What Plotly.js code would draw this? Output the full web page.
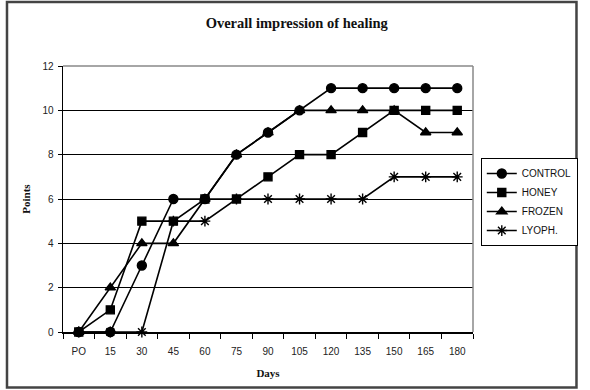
<!DOCTYPE html>
<html>
<head>
<meta charset="utf-8">
<script src="https://cdn.plot.ly/plotly-3.0.1.min.js"></script>
<style>
  html, body { margin: 0; padding: 0; background: #fff; }
  #chart { width: 590px; height: 390px; }
</style>
</head>
<body>
<div id="chart"></div>
<script>
// Healing score per group over the follow-up days
const days = ["PO", "15", "30", "45", "60", "75", "90", "105", "120", "135", "150", "165", "180"];
const control = [0, 0, 3, 6, 6, 8, 9, 10, 11, 11, 11, 11, 11];
const honey   = [0, 1, 5, 5, 6, 6, 7, 8, 8, 9, 10, 10, 10];
const frozen  = [0, 2, 4, 4, 6, 8, 9, 10, 10, 10, 10, 9, 9];
const lyoph   = [0, 0, 0, 5, 5, 6, 6, 6, 6, 6, 7, 7, 7];
const yTicks  = [0, 2, 4, 6, 8, 10, 12];

function series(name, values, symbol, size) {
  return {
    type: "scatter",
    mode: "lines+markers",
    name: name,
    x: days,
    y: values,
    line: { color: "#000", width: 1.6 },
    marker: {
      symbol: symbol,
      size: size,
      color: "#000",
      line: { color: "#000", width: 1.4 }
    },
    cliponaxis: false
  };
}

const traces = [
  series("CONTROL", control, "circle", 9),
  series("HONEY", honey, "square", 8),
  series("FROZEN", frozen, "triangle-up", 9),
  series("LYOPH.", lyoph, "asterisk-open", 9)
];

const layout = {
  width: 590,
  height: 390,
  margin: { l: 63, r: 111, t: 66, b: 58 },
  paper_bgcolor: "#fff",
  plot_bgcolor: "#fff",
  showlegend: true,
  title: {
    text: "<b>Overall impression of healing</b>",
    font: { family: "Liberation Serif, Times New Roman, serif", size: 14.5, color: "#111" },
    x: 0.503, xref: "container",
    y: 0.94, yref: "container", yanchor: "middle"
  },
  xaxis: {
    type: "category",
    range: [-0.5, 12.5],
    tickson: "boundaries",
    ticks: "outside",
    ticklen: 5,
    tickcolor: "#000",
    ticklabelstandoff: 9,
    showgrid: false,
    showline: true,
    linecolor: "#000",
    linewidth: 1.5,
    zeroline: false,
    tickfont: { family: "Liberation Sans, Arial, sans-serif", size: 10, color: "#222" },
    title: {
      text: "<b>Days</b>",
      font: { family: "Liberation Serif, Times New Roman, serif", size: 11, color: "#111" },
      standoff: 14
    }
  },
  yaxis: {
    range: [0, 12],
    tickvals: yTicks,
    ticks: "outside",
    ticklen: 4,
    tickcolor: "#000",
    ticklabelstandoff: 2,
    showgrid: true,
    gridcolor: "#000",
    gridwidth: 1,
    showline: true,
    linecolor: "#000",
    linewidth: 1.5,
    zeroline: false,
    tickfont: { family: "Liberation Sans, Arial, sans-serif", size: 10, color: "#222" },
    title: {
      text: "<b>Points</b>",
      font: { family: "Liberation Serif, Times New Roman, serif", size: 11, color: "#111" },
      standoff: 9
    }
  },
  legend: {
    x: 1.019, xanchor: "left",
    y: 0.654, yanchor: "top",
    bgcolor: "#fff",
    bordercolor: "#000",
    borderwidth: 1,
    itemwidth: 30,
    tracegroupgap: 0,
    font: { family: "Liberation Sans, Arial, sans-serif", size: 10, color: "#111" }
  },
  shapes: [
    // plot-area frame (top and right edges)
    { type: "line", xref: "paper", yref: "paper", x0: 0, x1: 1, y0: 1, y1: 1,
      line: { color: "#888", width: 1.5 } },
    { type: "line", xref: "paper", yref: "paper", x0: 1, x1: 1, y0: 0, y1: 1,
      line: { color: "#888", width: 1.5 } },
    // outer chart frame
    { type: "rect", xref: "paper", yref: "paper",
      x0: -0.1366, x1: 1.2524, y0: -0.2085, y1: 1.2406,
      line: { color: "#444", width: 2.5 }, layer: "below" }
  ]
};

Plotly.newPlot("chart", traces, layout, { displayModeBar: false, staticPlot: true });
</script>
</body>
</html>
